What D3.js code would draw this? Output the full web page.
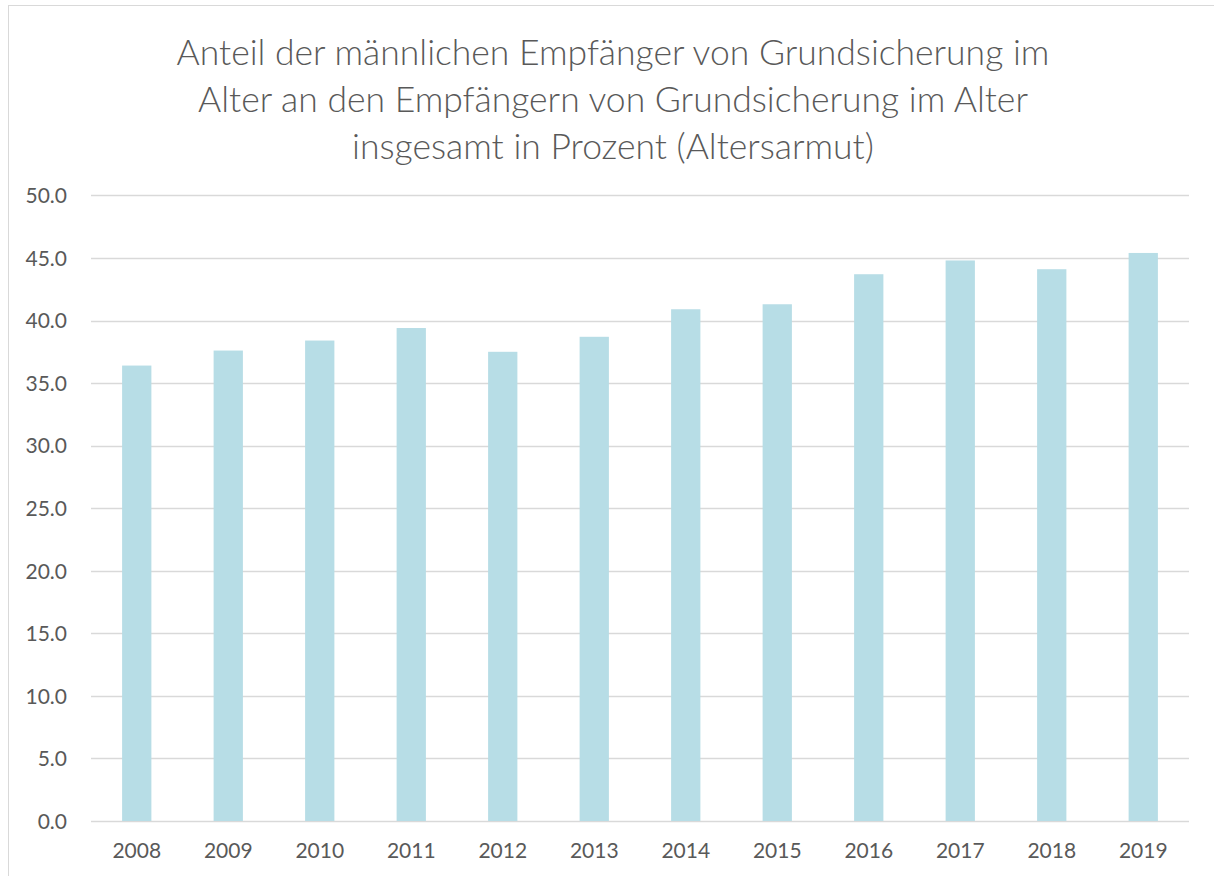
<!DOCTYPE html>
<html>
<head>
<meta charset="utf-8">
<script src="https://cdn.jsdelivr.net/npm/d3@7"></script>
<style>
  body { margin: 0; background: #fff; }
  svg { display: block; font-family: Lato, "Open Sans", sans-serif; }
  .tick text { fill: #595959; font-size: 21px; font-family: Lato, "Open Sans", sans-serif; }
</style>
</head>
<body>
<svg width="1214" height="876"></svg>
<script>
var years = ['2008', '2009', '2010', '2011', '2012', '2013', '2014', '2015', '2016', '2017', '2018', '2019'];
var anteil = [36.4, 37.6, 38.4, 39.4, 37.5, 38.7, 40.9, 41.3, 43.7, 44.8, 44.1, 45.4];
var yTicks = [0, 5, 10, 15, 20, 25, 30, 35, 40, 45, 50];
var titleLines = [
  'Anteil der männlichen Empfänger von Grundsicherung im',
  'Alter an den Empfängern von Grundsicherung im Alter',
  'insgesamt in Prozent (Altersarmut)'
];

var svg = d3.select('svg');
var plotLeft = 91, plotRight = 1189, plotTop = 195.4, plotBottom = 821;

// outer frame
svg.append('rect')
  .attr('x', 8.5).attr('y', 5.5)
  .attr('width', 1220).attr('height', 900)
  .attr('fill', 'none').attr('stroke', '#d9d9d9');

var x = d3.scaleBand().domain(years).range([plotLeft, plotRight]).paddingInner(0.68).paddingOuter(0.34);
var y = d3.scaleLinear().domain([0, 50]).range([plotBottom, plotTop]);

// gridlines
svg.append('g')
  .selectAll('line.grid')
  .data(yTicks)
  .enter()
    .append('line')
    .classed('grid', true)
    .attr('x1', plotLeft).attr('x2', plotRight)
    .attr('y1', function(d) { return Math.round(y(d)) + 0.5; })
    .attr('y2', function(d) { return Math.round(y(d)) + 0.5; })
    .attr('stroke', '#d9d9d9')
    .attr('stroke-width', 1.5);

// bars
svg.append('g')
  .selectAll('rect.bar')
  .data(anteil)
  .enter()
    .append('rect')
    .classed('bar', true)
    .attr('x', function(d, i) { return x(years[i]); })
    .attr('width', x.bandwidth())
    .attr('y', function(d) { return y(d); })
    .attr('height', function(d) { return y(0) - y(d); })
    .attr('fill', '#b7dde6');

// y axis labels
var yAxis = svg.append('g')
  .attr('transform', 'translate(' + (plotLeft - 24) + ',0)')
  .call(d3.axisLeft(y).tickValues(yTicks).tickFormat(d3.format('.1f')).tickSize(0).tickPadding(0));
yAxis.select('.domain').remove();
yAxis.selectAll('text').attr('dy', '0.35em');

// x axis labels
var xAxis = svg.append('g')
  .attr('transform', 'translate(0,' + (plotBottom + 22) + ')')
  .call(d3.axisBottom(x).tickSize(0).tickPadding(0));
xAxis.select('.domain').remove();
xAxis.selectAll('text').attr('dy', '0.71em');

// title
svg.append('g')
  .selectAll('text.title')
  .data(titleLines)
  .enter()
    .append('text')
    .classed('title', true)
    .attr('x', 613)
    .attr('y', function(d, i) { return 65 + i * 47; })
    .attr('text-anchor', 'middle')
    .attr('fill', '#595959')
    .style('font-size', '35.5px')
    .style('font-weight', 300)
    .text(function(d) { return d; });
</script>
</body>
</html>
